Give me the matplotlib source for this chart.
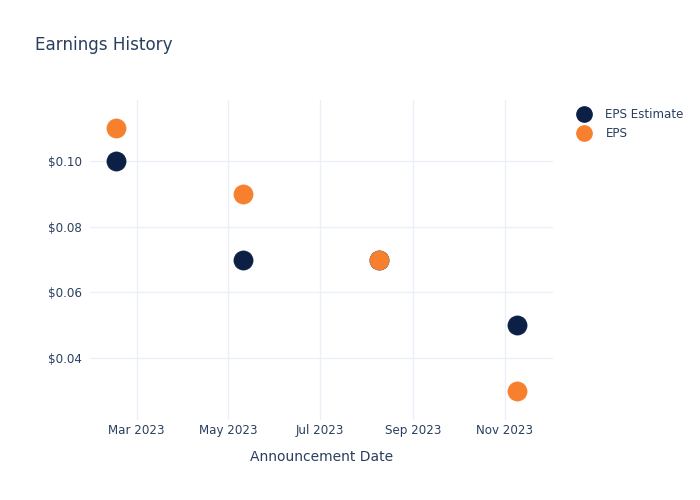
import matplotlib
matplotlib.use("Agg")
import matplotlib.pyplot as plt
import matplotlib.dates as mdates
from matplotlib.lines import Line2D
import numpy as np
import datetime as dt

dates = ["2023-02-15", "2023-05-11", "2023-08-09", "2023-11-09"]
eps_estimate = [0.10, 0.07, 0.07, 0.05]
eps_actual = [0.11, 0.09, 0.07, 0.03]
y_ticks = [0.04, 0.06, 0.08, 0.10]
x_ticks = ["2023-03-01", "2023-05-01", "2023-07-01", "2023-09-01", "2023-11-01"]

navy = "#0c1f45"
orange = "#f7802f"
txt = "#2a3f5f"
grid = "#ebf0f8"

d = [dt.datetime.strptime(s, "%Y-%m-%d") for s in dates]
fig = plt.figure(figsize=(7, 5), dpi=100)
ax = fig.add_axes([90/700, 80/500, 463/700, 320/500])
ax.scatter(d, eps_estimate, s=190, color=navy, zorder=3, linewidths=0.5, edgecolors=navy)
ax.scatter(d, eps_actual, s=190, color=orange, zorder=4, linewidths=0.5, edgecolors=orange)

ax.set_xlim(dt.datetime(2023, 1, 29), dt.datetime(2023, 12, 3))
ax.set_ylim(0.0211, 0.1186)
ax.set_yticks(y_ticks)
ax.set_yticklabels([f"${v:.2f}" for v in y_ticks])
ax.set_xticks([dt.datetime.strptime(s, "%Y-%m-%d") for s in x_ticks])
ax.xaxis.set_major_formatter(mdates.DateFormatter("%b %Y"))
ax.tick_params(length=0, labelsize=8.6, colors=txt)
ax.tick_params(axis="x", pad=3)
ax.tick_params(axis="y", pad=6)
ax.grid(True, color=grid, linewidth=1)
ax.set_axisbelow(True)
for sp in ax.spines.values():
    sp.set_visible(False)
ax.set_xlabel("Announcement Date", fontsize=10.0, color=txt, labelpad=9)

fig.text(35/700, 1 - 45/500, "Earnings History", fontsize=12.1, color=txt, va="center")

handles = [Line2D([], [], marker="o", linestyle="", markersize=11, color=navy),
           Line2D([], [], marker="o", linestyle="", markersize=11, color=orange)]
leg = fig.legend(handles, ["EPS Estimate", "EPS"], loc="upper left",
                 bbox_to_anchor=(572/700, 1 - 103/500), frameon=False,
                 fontsize=8.6, labelcolor=txt, handletextpad=1.2,
                 labelspacing=0.55, borderaxespad=0, handlelength=1.2)

fig.savefig("out.png", dpi=100)
